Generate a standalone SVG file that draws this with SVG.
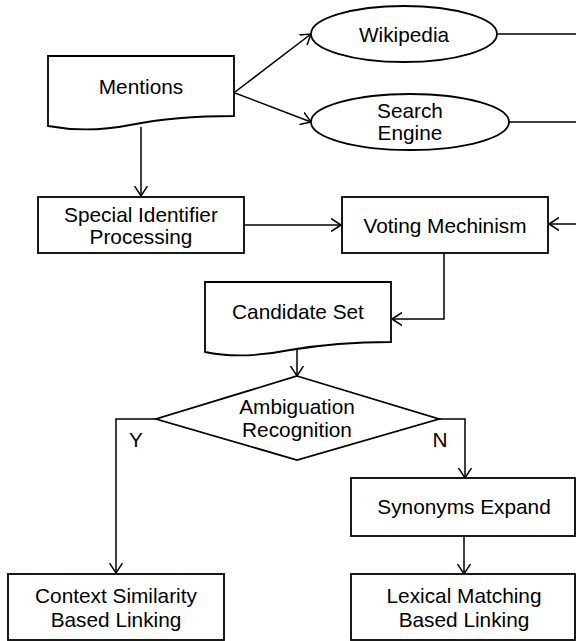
<svg xmlns="http://www.w3.org/2000/svg" width="576" height="641" viewBox="0 0 576 641">
<defs>
<marker id="arr" viewBox="0 0 10 14" refX="10" refY="7" markerWidth="10" markerHeight="14" markerUnits="userSpaceOnUse" orient="auto">
<path d="M0,0.5 L10,7 L0,13.5" fill="none" stroke="#000" stroke-width="1.5"/>
</marker>
<style>
.s{fill:#fff;stroke:#000;stroke-width:1.8}
.c{fill:none;stroke:#000;stroke-width:1.5}
.t{font-family:"Liberation Sans",Arial,sans-serif;font-size:20.8px;fill:#000;text-anchor:middle}
</style>
</defs>
<rect width="576" height="641" fill="#fff"/>
<g id="connectors">
<path class="c" d="M141,127 L141,196" marker-end="url(#arr)"/>
<path class="c" d="M235,92 L311,34" marker-end="url(#arr)"/>
<path class="c" d="M235,93 L311,122" marker-end="url(#arr)"/>
<path class="c" d="M498,34 L576,34"/>
<path class="c" d="M509,122 L576,122"/>
<path class="c" d="M244,225 L341,225" marker-end="url(#arr)"/>
<path class="c" d="M576,224 L549,224" marker-end="url(#arr)"/>
<path class="c" d="M444,253 L444,319 L392,319" marker-end="url(#arr)"/>
<path class="c" d="M297,349 L297,376" marker-end="url(#arr)"/>
<path class="c" d="M156,419 L116,419 L116,573" marker-end="url(#arr)"/>
<path class="c" d="M439,419 L465,419 L465,478" marker-end="url(#arr)"/>
<path class="c" d="M464,536 L464,574" marker-end="url(#arr)"/>
</g>
<g id="mentions">
<path class="s" d="M48,56 L234,56 L234,116 C200,116 165,118 130,125 C100,131 75,131 48,126 Z"/>
<text class="t" x="141" y="94">Mentions</text>
</g>
<g id="wikipedia">
<ellipse class="s" cx="404" cy="34" rx="93" ry="28"/>
<text class="t" x="404" y="42">Wikipedia</text>
</g>
<g id="search-engine">
<ellipse class="s" cx="410" cy="122" rx="99" ry="28"/>
<text class="t" x="410" y="118">Search</text>
<text class="t" x="410" y="140">Engine</text>
</g>
<g id="special">
<rect class="s" x="38" y="197" width="206" height="56"/>
<text class="t" x="141" y="222">Special Identifier</text>
<text class="t" x="141" y="244">Processing</text>
</g>
<g id="voting">
<rect class="s" x="342" y="197" width="206" height="56"/>
<text class="t" x="445" y="233">Voting Mechinism</text>
</g>
<g id="candidate">
<path class="s" d="M205,282 L391,282 L391,342 C360,342 325,344 290,350 C255,357 228,357 205,352 Z"/>
<text class="t" x="298" y="319">Candidate Set</text>
</g>
<g id="ambiguation">
<path class="s" d="M297,376 L439,419 L297,460 L156,419 Z"/>
<text class="t" x="297" y="414">Ambiguation</text>
<text class="t" x="297" y="437">Recognition</text>
</g>
<g id="labels">
<text class="t" x="136" y="447">Y</text>
<text class="t" x="440" y="447">N</text>
</g>
<g id="synonyms">
<rect class="s" x="351" y="478" width="224" height="58"/>
<text class="t" x="464" y="514">Synonyms Expand</text>
</g>
<g id="context">
<rect class="s" x="8" y="574" width="216" height="66"/>
<text class="t" x="116" y="603">Context Similarity</text>
<text class="t" x="116" y="627">Based Linking</text>
</g>
<g id="lexical">
<rect class="s" x="351" y="574" width="224" height="66"/>
<text class="t" x="464" y="603">Lexical Matching</text>
<text class="t" x="464" y="627">Based Linking</text>
</g>
</svg>
